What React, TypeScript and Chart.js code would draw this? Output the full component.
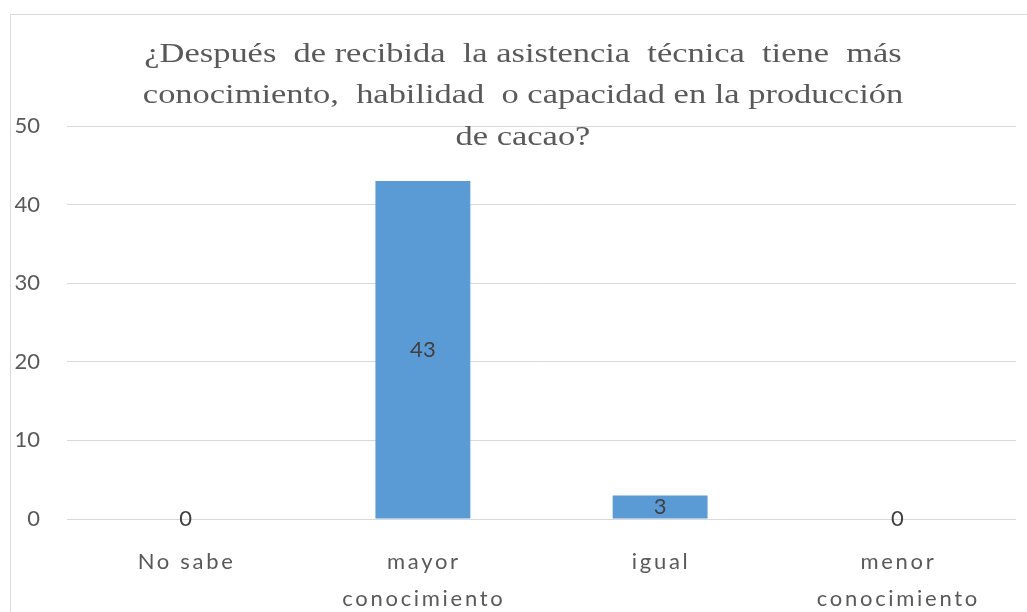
import React, { useEffect, useRef } from "react";
import { Chart, registerables } from "chart.js";

Chart.register(...registerables);

const categories: (string | string[])[] = ["No sabe", ["mayor", "conocimiento"], "igual", ["menor", "conocimiento"]];
const values: number[] = [0, 43, 3, 0];
const titleLines: string[] = [
  "¿Después  de recibida  la asistencia  técnica  tiene  más",
  "conocimiento,  habilidad  o capacidad en la producción",
  "de cacao?",
];
const yMin = 0;
const yMax = 50;
const yStep = 10;

const SANS = "Lato, 'Open Sans', sans-serif";
const SERIF = "'Liberation Serif', 'DejaVu Serif', serif";

const titlePlugin = {
  id: "customTitle",
  afterDraw(chart: any) {
    const ctx = chart.ctx;
    const cx = 512;
    const baselines = [47, 88, 130];
    titleLines.forEach((t, i) => {
      ctx.save();
      ctx.font = `28px ${SERIF}`;
      ctx.fillStyle = "#595959";
      ctx.textAlign = "center";
      ctx.textBaseline = "alphabetic";
      ctx.translate(cx, baselines[i]);
      ctx.scale(1.23, 1);
      ctx.fillText(t, 0, 0);
      ctx.restore();
    });
  },
};

const xLabelPlugin = {
  id: "xLabels",
  afterDraw(chart: any) {
    const ctx = chart.ctx;
    const scale = chart.scales.x;
    ctx.save();
    ctx.font = `22px ${SANS}`;
    ctx.fillStyle = "#595959";
    ctx.textAlign = "center";
    ctx.textBaseline = "alphabetic";
    try {
      (ctx as any).letterSpacing = "2.7px";
    } catch (e) {}
    const lineGap = 37;
    const firstBaseline = chart.chartArea.bottom + 50;
    (chart.data.labels as (string | string[])[]).forEach((lab, i) => {
      const x = scale.getPixelForTick(i) + 1;
      const lines = Array.isArray(lab) ? lab : [lab];
      lines.forEach((ln, j) => ctx.fillText(ln, x, firstBaseline + j * lineGap));
    });
    ctx.restore();
  },
};

const valueLabelPlugin = {
  id: "valueLabels",
  afterDatasetsDraw(chart: any) {
    const ctx = chart.ctx;
    ctx.save();
    ctx.font = `22px ${SANS}`;
    ctx.fillStyle = "#404040";
    ctx.textAlign = "center";
    ctx.textBaseline = "middle";
    const meta = chart.getDatasetMeta(0);
    meta.data.forEach((bar: any, i: number) => {
      const v = chart.data.datasets[0].data[i];
      const y = (bar.y + bar.base) / 2;
      ctx.fillText(String(v), bar.x, y);
    });
    ctx.restore();
  },
};

export default function App() {
  const ref = useRef<HTMLCanvasElement>(null);
  useEffect(() => {
    if (!ref.current) return;
    const chart = new Chart(ref.current, {
      type: "bar",
      data: {
        labels: categories,
        datasets: [
          {
            data: values,
            backgroundColor: "#5B9BD5",
            barPercentage: 0.4,
            categoryPercentage: 1.0,
          },
        ],
      },
      options: {
        responsive: false,
        animation: false,
        layout: { padding: { top: 111, right: 11, left: 0, bottom: 0 } },
        plugins: {
          legend: { display: false },
          title: { display: false },
          tooltip: { enabled: false },
        },
        scales: {
          x: {
            grid: { display: false, drawTicks: false },
            border: { display: false },
            ticks: { display: false },
            afterFit(scale: any) {
              scale.height = 93;
            },
          },
          y: {
            min: yMin,
            max: yMax,
            grid: { color: "#d9d9d9", lineWidth: 1, drawTicks: false },
            border: { display: false },
            ticks: {
              stepSize: yStep,
              color: "#595959",
              font: { family: SANS, size: 22 },
              padding: 27,
            },
            afterFit(scale: any) {
              scale.width = 56;
            },
          },
        },
      },
      plugins: [valueLabelPlugin, xLabelPlugin, titlePlugin],
    });
    return () => chart.destroy();
  }, []);
  return (
    <div
      style={{
        position: "fixed",
        left: 10,
        top: 14,
        width: 1017,
        height: 598,
        borderTop: "1px solid #d9d9d9",
        borderLeft: "1px solid #d9d9d9",
        boxSizing: "border-box",
        background: "#fff",
        overflow: "hidden",
      }}
    >
      <canvas ref={ref} width={1016} height={597} style={{ display: "block" }} />
    </div>
  );
}
